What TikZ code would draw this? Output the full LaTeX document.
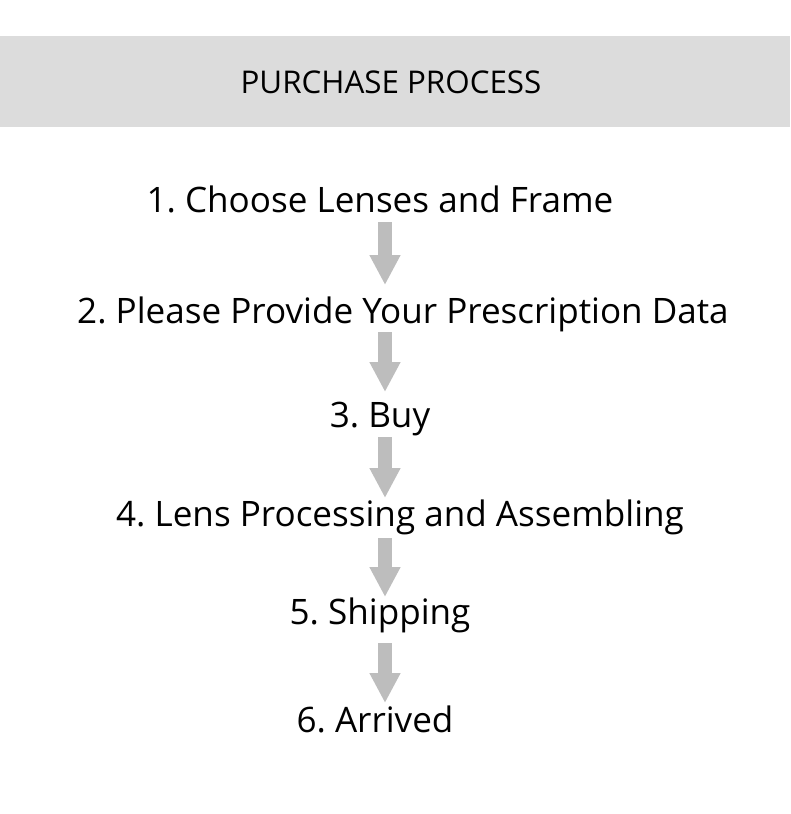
\documentclass[tikz,border=0pt]{standalone}
\usepackage{fontspec}
\setmainfont{Open Sans}
\usetikzlibrary{arrows.meta}
\frenchspacing
\definecolor{bandgrey}{HTML}{DCDCDC}
\definecolor{arrowgrey}{HTML}{BDBDBD}
\tikzset{
  stepnode/.style={inner sep=0pt, anchor=base, font=\fontsize{26.3}{30}\selectfont},
  titlenode/.style={inner sep=0pt, anchor=base, font=\fontsize{23.5}{28}\selectfont},
  flow/.style={draw=arrowgrey, line width=10.5pt, -{Triangle[length=22.5pt,width=21.75pt]}}
}
\begin{document}
\begin{tikzpicture}[x=0.75pt,y=-0.75pt]
  \useasboundingbox (0,0) rectangle (790,814);
  \fill[bandgrey] (0,36) rectangle (790,127);
  \node[titlenode] (title) at (391,93) {PURCHASE PROCESS};

  \coordinate (ax) at (385,0);
  \node[stepnode] (s1) at (380,212) {1. Choose Lenses and Frame};
  \node[stepnode] (s2) at (403,323) {2. Please Provide Your Prescription Data};
  \node[stepnode] (s3) at (380,427) {3. Buy};
  \node[stepnode] (s4) at (400,526) {4. Lens Processing and Assembling};
  \node[stepnode] (s5) at (380,624) {5. Shipping};
  \node[stepnode] (s6) at (375,732) {6. Arrived};

  \foreach \a/\b/\da/\db in {s1/s2/10/38, s2/s3/9/35, s3/s4/10/28, s4/s5/12/27, s5/s6/19/29}
    \draw[flow] ([yshift=-\da*0.75pt]\a.base -| ax) -- ([yshift=\db*0.75pt]\b.base -| ax);
\end{tikzpicture}
\end{document}
